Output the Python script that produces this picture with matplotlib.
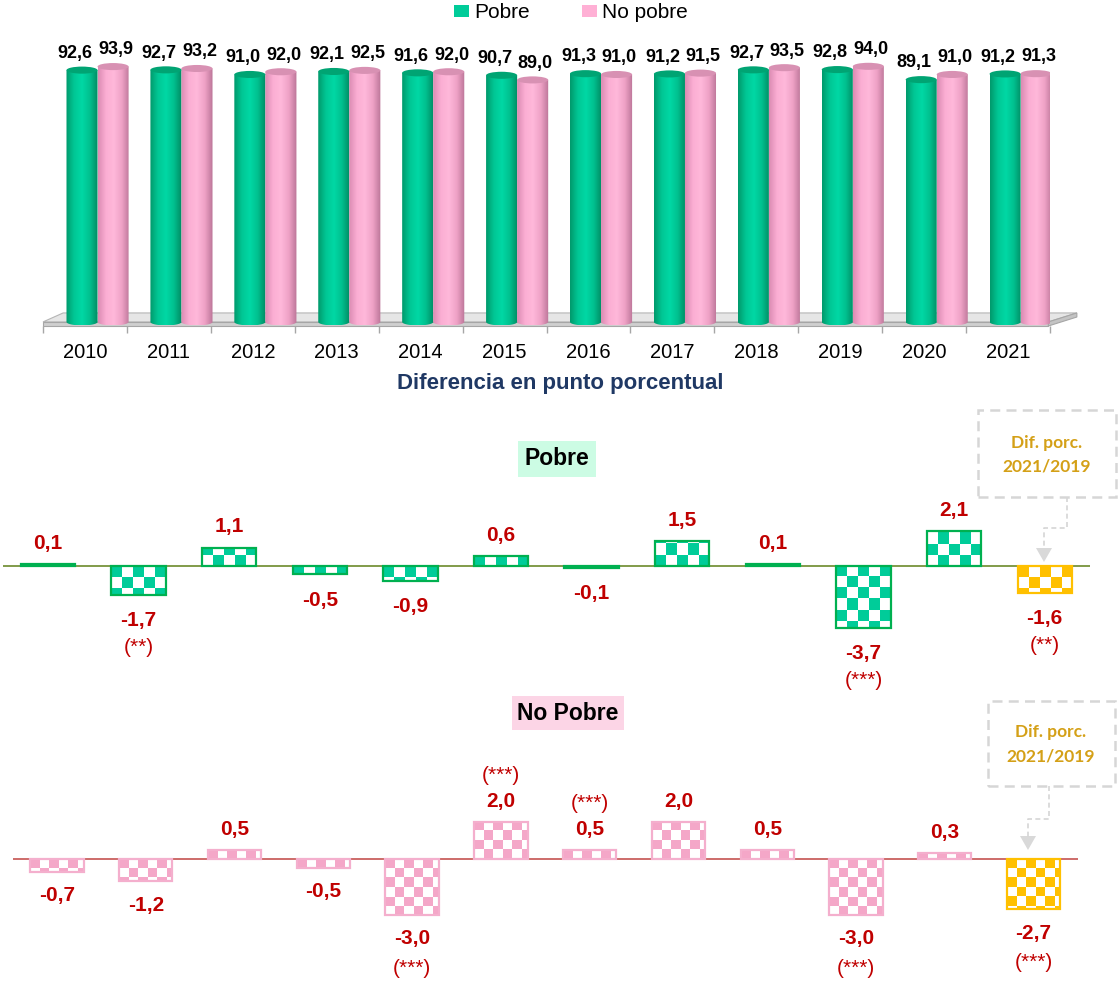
import numpy as np
import matplotlib
matplotlib.use('Agg')
import matplotlib.pyplot as plt
from matplotlib.patches import Rectangle, Ellipse, Polygon, Patch, PathPatch
from matplotlib.colors import LinearSegmentedColormap, to_rgb
from matplotlib.lines import Line2D
from matplotlib.path import Path

years = ['2010', '2011', '2012', '2013', '2014', '2015',
         '2016', '2017', '2018', '2019', '2020', '2021']
pobre = [92.6, 92.7, 91.0, 92.1, 91.6, 90.7, 91.3, 91.2, 92.7, 92.8, 89.1, 91.2]
no_pobre = [93.9, 93.2, 92.0, 92.5, 92.0, 89.0, 91.0, 91.5, 93.5, 94.0, 91.0, 91.3]

# differences (last one is 2021/2019)
dif_pobre = [0.1, -1.7, 1.1, -0.5, -0.9, 0.6, -0.1, 1.5, 0.1, -3.7, 2.1, -1.6]
sig_pobre = ['', '(**)', '', '', '', '', '', '', '', '(***)', '', '(**)']
dif_no_pobre = [-0.7, -1.2, 0.5, -0.5, -3.0, 2.0, 0.5, 2.0, 0.5, -3.0, 0.3, -2.7]
sig_no_pobre = ['', '', '', '', '(***)', '(***)', '(***)', '', '', '(***)', '', '(***)']

W, H = 1118, 982
SANS = 'Liberation Sans'
RED = '#C00000'
GOLD = '#FFC000'


def fx(x):
    return x / W


def fy(y):
    return 1 - y / H


fig = plt.figure(figsize=(W / 100, H / 100), dpi=100)

# ---------------- top chart: cylinders ----------------
ax1 = fig.add_axes([fx(43), fy(326), (1050 - 43) / W, 276 / H])
green_cm = LinearSegmentedColormap.from_list('g', ['#009A6C', '#00C795', '#00D8A5', '#00C08F', '#008C63'])
pink_cm = LinearSegmentedColormap.from_list('p', ['#DC8CB3', '#FBAED3', '#FFB8DA', '#EFA2C6', '#BC7699'])
grad = np.linspace(0, 1, 80).reshape(1, -1)
ell_h = 2.6


def cylinder(ax, x0, w, h, cmap, top_color):
    xc = x0 + w / 2
    t = np.linspace(np.pi, 2 * np.pi, 40)
    verts = [(xc + w / 2 * np.cos(a), ell_h / 2 * np.sin(a)) for a in t]
    verts += [(x0 + w, h), (x0, h), verts[0]]
    clip = PathPatch(Path(verts), transform=ax.transData, fc='none', ec='none')
    ax.add_patch(clip)
    im = ax.imshow(grad, cmap=cmap, extent=[x0, x0 + w, -ell_h / 2, h],
                   aspect='auto', zorder=3, interpolation='bilinear')
    im.set_clip_path(clip)
    ax.add_patch(Ellipse((xc, h), w, ell_h, fc=top_color, ec='none', zorder=4))


# floor
ax1.add_patch(Polygon([(-0.5, 0), (11.48, 0), (11.82, 3.3), (-0.26, 3.3)],
                      fc='#E6E6E6', ec='#B5B5B5', lw=0.8, zorder=1, clip_on=False))
ax1.add_patch(Polygon([(-0.5, -1.5), (11.48, -1.5), (11.48, 0), (-0.5, 0)],
                      fc='#CFCFCF', ec='#A6A6A6', lw=0.8, zorder=1, clip_on=False))
ax1.add_patch(Polygon([(11.48, -1.5), (11.82, 1.8), (11.82, 3.3), (11.48, 0)],
                      fc='#C4C4C4', ec='#A6A6A6', lw=0.8, zorder=1, clip_on=False))

bw = 0.37
for i, (p, n) in enumerate(zip(pobre, no_pobre)):
    cylinder(ax1, i - 0.22, bw, p, green_cm, '#00A473')
    cylinder(ax1, i + 0.15, bw, n, pink_cm, '#D891B3')
    for xc, v, dx in ((i - 0.22 + bw / 2, p, -5), (i + 0.15 + bw / 2, n, 2)):
        ax1.annotate(f'{v:.1f}'.replace('.', ','), (xc, v), xytext=(dx, 12),
                     textcoords='offset points', ha='center', va='center',
                     fontsize=13, fontweight='bold', family=SANS)

ax1.set_xlim(-0.5, 11.5)
ax1.set_ylim(-1.5, 100)
for s in ax1.spines.values():
    s.set_visible(False)
ax1.set_yticks([])
ax1.set_xticks(np.arange(12))
ax1.set_xticklabels(years, fontsize=14.5, family=SANS)
ax1.tick_params(axis='x', length=0, pad=12)
ax1.set_xticks(np.arange(-0.5, 12, 1), minor=True)
ax1.tick_params(axis='x', which='minor', length=5, color='#A6A6A6', width=1)

fig.legend(handles=[Patch(fc='#00CC99'), Patch(fc='#FFB0D5')],
           labels=['Pobre', 'No pobre'], loc='center', ncol=2,
           bbox_to_anchor=(fx(571), fy(13)), frameon=False,
           prop={'family': SANS, 'size': 15},
           handlelength=0.72, handleheight=0.53, handletextpad=0.25, columnspacing=2.5)

fig.text(fx(560), fy(383), 'Diferencia en punto porcentual', ha='center', va='center',
         fontsize=16, fontweight='bold', color='#1F3864', family=SANS)


# ---------------- difference charts ----------------
def diff_chart(left, right, top, bottom, zero, scale, vals, sigs, fill, edge,
               cell, zero_color, pos_off, neg_off, gap_pos, gap_neg):
    ax = fig.add_axes([fx(left), fy(bottom), (right - left) / W, (bottom - top) / H])
    ylim = (-(bottom - zero) / scale, (zero - top) / scale)
    ax.axis('off')
    ax.axhline(0, color=zero_color, lw=1.3, zorder=2)
    x = np.arange(len(vals))
    fills = [fill] * (len(vals) - 1) + [GOLD]
    edges = [edge] * (len(vals) - 1) + [GOLD]
    bars = ax.bar(x, vals, width=0.6, fc='none', ec=edges, lw=1.6, zorder=4)
    pxx = (right - left) / 12
    for b, v, c in zip(bars, vals, fills):
        x0, w = b.get_x(), b.get_width()
        nx = int(np.ceil(w * pxx / cell))
        ny = max(1, int(np.ceil(abs(v) * scale / cell)))
        board = np.indices((ny, nx)).sum(axis=0) % 2
        rgba = np.ones((ny, nx, 4))
        rgba[board == 0, :3] = to_rgb(c)
        y1 = np.sign(v) * ny * cell / scale
        im = ax.imshow(rgba, extent=[x0, x0 + nx * cell / pxx, min(0, y1), max(0, y1)],
                       aspect='auto', interpolation='nearest', zorder=3)
        im.set_clip_path(b)
    ax.set_xlim(-0.5, 11.5)
    ax.set_ylim(ylim)
    for xi, v, s in zip(x, vals, sigs):
        txt = f'{v:.1f}'.replace('.', ',')
        if v >= 0:
            off, gap = pos_off, gap_pos
        else:
            off, gap = -neg_off, -gap_neg
        ax.annotate(txt, (xi, v), xytext=(0, off), textcoords='offset points',
                    ha='center', va='center', fontsize=15, fontweight='bold',
                    color=RED, family=SANS)
        if s:
            ax.annotate(s, (xi, v), xytext=(0, off + gap), textcoords='offset points',
                        ha='center', va='center', fontsize=15, color=RED, family=SANS)
    return ax


diff_chart(2.7, 1090, 430, 690, 566, 16.8, dif_pobre, sig_pobre, '#00CC99', '#00B050',
           11, '#77933C', 14.8, 18.5, 19, 19.5)
diff_chart(12.6, 1078, 740, 982, 859, 18.7, dif_no_pobre, sig_no_pobre, '#F4A7C8', '#F4AFCD',
           9.5, '#C9605E', 14.8, 17, 18.5, 21.5)

fig.text(fx(557), fy(459), 'Pobre', ha='center', va='center', fontsize=16.5,
         fontweight='bold', family=SANS,
         bbox=dict(boxstyle='square,pad=0.3', fc='#CCFCE4', ec='none'))
fig.text(fx(568), fy(713), 'No Pobre', ha='center', va='center', fontsize=16.5,
         fontweight='bold', family=SANS,
         bbox=dict(boxstyle='square,pad=0.25', fc='#FCD5E6', ec='none'))


def callout(x0, y0, x1, y1, tx, ty, path_pts, tip):
    fig.add_artist(Rectangle((fx(x0), fy(y1)), (x1 - x0) / W, (y1 - y0) / H,
                             transform=fig.transFigure, fill=False, ec='#D6D6D6',
                             lw=1.8, ls=(0, (4, 2.5))))
    fig.text(fx(tx), fy(ty), 'Dif. porc.', ha='center', va='center', fontsize=12.5,
             fontweight='bold', color='#D4A017', family=['Lato', 'DejaVu Sans'])
    fig.text(fx(tx), fy(ty + 24), '2021/2019', ha='center', va='center', fontsize=12.5,
             fontweight='bold', color='#D4A017', family=['Lato', 'DejaVu Sans'])
    xs = [fx(p[0]) for p in path_pts]
    ys = [fy(p[1]) for p in path_pts]
    fig.add_artist(Line2D(xs, ys, transform=fig.transFigure, color='#D6D6D6',
                          lw=1.2, ls=(0, (3, 2))))
    tx_, ty_ = tip
    fig.add_artist(Polygon([(fx(tx_ - 8), fy(ty_ - 14)), (fx(tx_ + 8), fy(ty_ - 14)),
                            (fx(tx_), fy(ty_))], closed=True, transform=fig.transFigure,
                           fc='#D9D9D9', ec='none'))


callout(978, 410, 1116, 497, 1047, 443, [(1067, 497), (1067, 528), (1044, 528), (1044, 548)],
        (1044, 562))
callout(988, 701, 1115, 786, 1051, 732, [(1049, 786), (1049, 819), (1028, 819), (1028, 837)],
        (1028, 850))

fig.savefig('out.png', dpi=100)
